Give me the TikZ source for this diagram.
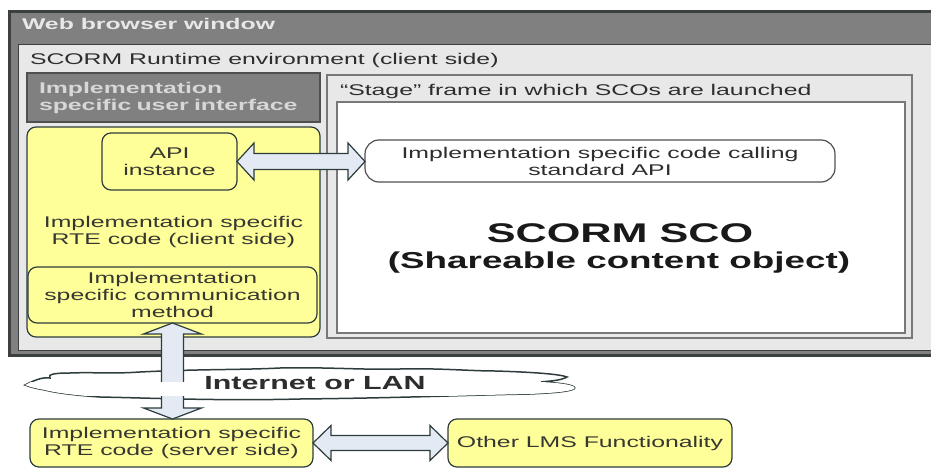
\documentclass[tikz,border=0pt]{standalone}
\usepackage{fontspec}
\setmainfont[FakeStretch=1.6]{Liberation Sans}
\usetikzlibrary{calc}
\definecolor{tgray}{RGB}{128,128,128}
\definecolor{dkedge}{RGB}{60,64,64}
\definecolor{panel}{RGB}{232,232,232}
\definecolor{stedge}{RGB}{120,120,120}
\definecolor{yel}{RGB}{255,255,153}
\definecolor{afill}{RGB}{228,234,244}
\definecolor{yedge}{RGB}{45,60,60}
\definecolor{ytxt}{RGB}{55,55,50}
\definecolor{ptxt}{RGB}{45,45,45}
\definecolor{ttxt}{RGB}{232,232,232}
\definecolor{uitxt}{RGB}{215,215,215}
\definecolor{uiedge}{RGB}{80,80,80}
\definecolor{cedge}{RGB}{80,80,80}
\newcommand\hdblarrow[5]{%
  \draw[arrowst] let \p1=(#1), \p2=(#2) in
    (\x1,\y1) -- ({\x1+#5pt},{\y1+#4pt}) -- ({\x1+#5pt},{\y1+#3pt}) --
    ({\x2-#5pt},{\y1+#3pt}) -- ({\x2-#5pt},{\y1+#4pt}) -- (\x2,\y1) --
    ({\x2-#5pt},{\y1-#4pt}) -- ({\x2-#5pt},{\y1-#3pt}) --
    ({\x1+#5pt},{\y1-#3pt}) -- ({\x1+#5pt},{\y1-#4pt}) -- cycle;}
\newcommand\vdblarrow[5]{%
  \draw[arrowst] let \p1=(#1), \p2=(#2) in
    (\x1,\y1) -- ({\x1+#4pt},{\y1-#5pt}) -- ({\x1+#3pt},{\y1-#5pt}) --
    ({\x1+#3pt},{\y2+#5pt}) -- ({\x1+#4pt},{\y2+#5pt}) -- (\x1,\y2) --
    ({\x1-#4pt},{\y2+#5pt}) -- ({\x1-#3pt},{\y2+#5pt}) --
    ({\x1-#3pt},{\y1-#5pt}) -- ({\x1-#4pt},{\y1-#5pt}) -- cycle;}
\newcommand\cloudpath{(25,385)
  .. controls (35,380) and (42,377) .. (50,378)
  .. controls (47,374) and (56,373) .. (70,373)
  .. controls (95,372) and (110,374) .. (140,372)
  .. controls (200,369) and (240,370) .. (280,368)
  .. controls (330,367) and (360,370) .. (400,369)
  .. controls (440,368) and (470,371) .. (495,371)
  .. controls (530,372) and (560,374) .. (567,377)
  .. controls (560,381) and (548,381) .. (541,382)
  .. controls (565,383) and (578,386) .. (574,389)
  .. controls (568,392) and (550,393) .. (530,394)
  .. controls (470,395) and (400,398) .. (300,399)
  .. controls (220,401) and (150,398) .. (100,397)
  .. controls (70,395) and (52,392) .. (45,390)
  .. controls (38,389) and (30,387) .. (25,385) -- cycle}
\begin{document}
\begin{tikzpicture}[x=1pt,y=-1pt,
  every node/.style={inner sep=0pt, outer sep=0pt},
  f/.style={font=\fontsize{15.5}{17}\selectfont},
  fb/.style={font=\fontsize{15.5}{17}\selectfont\bfseries},
  ybox/.style={draw=yedge, line width=1.2pt, rounded corners=9pt, fill=yel,
    anchor=north west, text=ytxt, align=center, f},
  arrowst/.style={draw=yedge, line width=1.2pt, fill=afill, line join=miter},
  cloudst/.style={draw=yedge, line width=1.5pt, fill=white},
  lbl/.style={anchor=base west, f, text=ptxt}]
\useasboundingbox (0,0) rectangle (931,468);
\clip (0,0) rectangle (931,468);
% browser window
\draw[draw=dkedge, line width=3pt, fill=tgray] (9.5,11.5) rectangle (960,355);
\fill[panel] (18,45) rectangle (960,350);
\draw[dkedge, line width=1pt] (960,45) -- (18,45) -- (18,350) -- (960,350);
\node[anchor=base west, fb, text=ttxt] (title) at (22,30) {Web browser window};
\node[lbl] (rtelbl) at (30,65) {SCORM Runtime environment (client side)};
% stage frame
\draw[draw=stedge, line width=2.5pt, fill=panel] (327,75) rectangle (912,338);
\draw[draw=stedge, line width=2pt, fill=white] (337,102) rectangle (905,333);
\node[lbl] (stagelbl) at (340,96) {“Stage” frame in which SCOs are launched};
% UI box
\node[draw=uiedge, line width=1.5pt, fill=tgray, anchor=north west,
  minimum width=293, minimum height=49, text width=269, inner xsep=12pt,
  align=left, fb, text=uitxt] (ui) at (27,73)
  {Implementation\\specific user interface};
% client side RTE
\node[ybox, minimum width=293, minimum height=210] (rte) at (27,127)
  {Implementation specific\\RTE code (client side)};
\node[ybox, minimum width=135, minimum height=57] (api) at (102,133)
  {API\\instance};
\node[ybox, minimum width=289, minimum height=56] (comm) at (28,267)
  {Implementation\\specific communication\\method};
% SCO
\node[draw=cedge, line width=1.2pt, fill=white, rounded corners=14pt,
  anchor=north west, minimum width=470, minimum height=42, align=center,
  f, text=ptxt] (call) at (365,140)
  {Implementation specific code calling\\standard API};
\node[anchor=base, font=\fontsize{27}{30}\selectfont\bfseries, text=black!90] (sco1)
  at (620,242) {SCORM SCO};
\node[anchor=base, font=\fontsize{23}{26}\selectfont\bfseries, text=black!90] (sco2)
  at (619,268) {(Shareable content object)};
% server side
\node[ybox, minimum width=283, minimum height=48] (server) at (30,419)
  {Implementation specific\\RTE code (server side)};
\node[ybox, minimum width=284, minimum height=48] (other) at (448,419)
  {Other LMS Functionality};
% cloud
\draw[cloudst] \cloudpath;
% arrows
\hdblarrow{api.east}{call.west}{8}{18.5}{17}
\vdblarrow{comm.south}{server.north}{11}{29}{11}
\hdblarrow{server.east}{other.west}{7.5}{17.5}{18}
% cloud interior over the shaft
\begin{scope}
  \clip (0,382) rectangle (931,395);
  \fill[white] \cloudpath;
\end{scope}
\node[anchor=base, font=\fontsize{19}{22}\selectfont\bfseries, text=ptxt] (inet)
  at (315,389) {Internet or LAN};
\end{tikzpicture}
\end{document}
